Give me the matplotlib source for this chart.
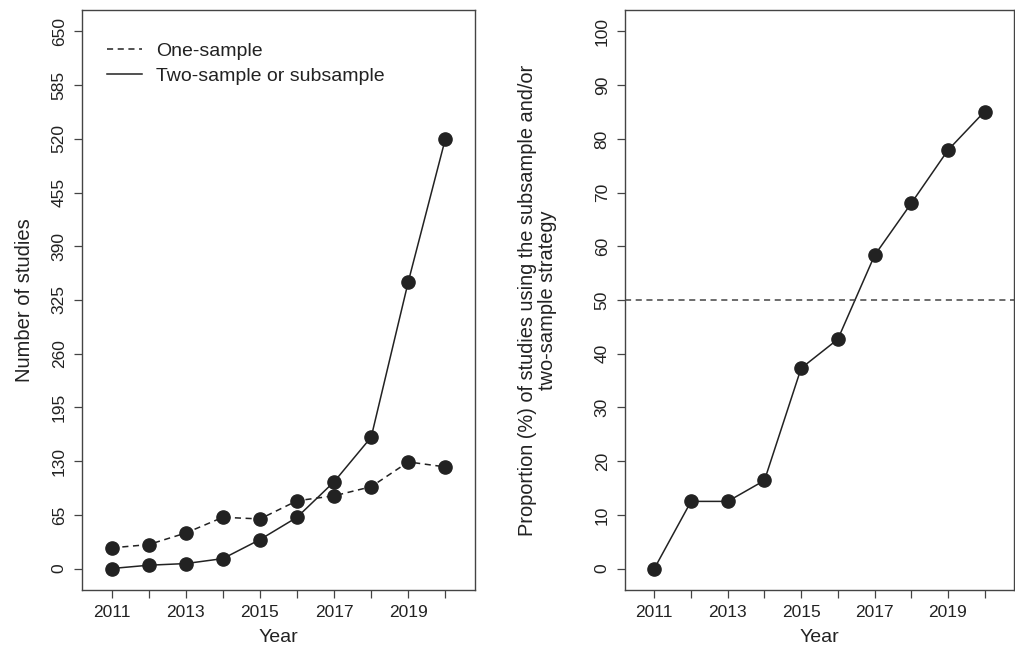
import matplotlib.pyplot as plt

plt.rcParams['font.family'] = ['Liberation Sans', 'DejaVu Sans']

# данные
years = [2011, 2012, 2013, 2014, 2015, 2016, 2017, 2018, 2019, 2020]
one_sample = [25, 29, 43, 62, 60, 82, 88, 99, 129, 123]
two_sample = [0, 4, 6, 12, 35, 62, 105, 159, 347, 520]
proportion = [0, 12.5, 12.5, 16.4, 37.3, 42.7, 58.3, 68.0, 77.9, 85.1]

left_yticks = list(range(0, 651, 65))
right_yticks = list(range(0, 101, 10))
xtick_labels = [str(y) if y % 2 == 1 else '' for y in years]

ink = '#222222'
frame = '#444444'

fig = plt.figure(figsize=(10.15, 6.58), dpi=100)
ax1 = fig.add_axes([82 / 1015, 68 / 658, 393 / 1015, 580 / 658])
ax2 = fig.add_axes([625 / 1015, 68 / 658, 389 / 1015, 580 / 658])


def style(ax):
    for s in ax.spines.values():
        s.set_color(frame)
        s.set_linewidth(1.0)
    ax.tick_params(direction='out', length=6, width=0.9, color=frame,
                   labelsize=12.5, labelcolor=ink, pad=5)
    ax.set_xticks(years)
    ax.set_xticklabels(xtick_labels)
    ax.set_xlim(2010.2, 2020.8)
    for lab in ax.get_yticklabels():
        lab.set_rotation(90)
        lab.set_va('center')
    ax.set_xlabel('Year', fontsize=14, color=ink, labelpad=6)


# левый график: количество исследований
ax1.plot(years, one_sample, linestyle='--', dashes=(4, 3), color=ink, lw=1.1,
         marker='o', ms=9.5, label='One-sample')
ax1.plot(years, two_sample, linestyle='-', color=ink, lw=1.1,
         marker='o', ms=9.5, label='Two-sample or subsample')
ax1.set_yticks(left_yticks)
ax1.set_ylim(-26, 676)
ax1.set_ylabel('Number of studies', fontsize=14.5, color=ink, labelpad=13)
style(ax1)
h, l = ax1.get_legend_handles_labels()
for hh in h:
    hh.set_marker('')
leg = ax1.legend(loc='upper left', bbox_to_anchor=(0.064, 0.945), frameon=False,
                 fontsize=14, handlelength=1.8, handletextpad=0.7,
                 borderpad=0, borderaxespad=0, labelspacing=0.42)
for t in leg.get_texts():
    t.set_color(ink)
for hh in h:
    hh.set_marker('o')

# правый график: доля исследований
ax2.plot(years, proportion, linestyle='-', color=ink, lw=1.1, marker='o', ms=9.5)
ax2.axhline(50, linestyle='--', dashes=(4, 3), color=frame, lw=1.1)
ax2.set_yticks(right_yticks)
ax2.set_ylim(-4, 104)
ax2.set_ylabel('Proportion (%) of studies using the subsample and/or\ntwo-sample strategy',
               fontsize=14.4, color=ink, labelpad=27, linespacing=1.05)
style(ax2)

fig.savefig('out.png', dpi=100)
